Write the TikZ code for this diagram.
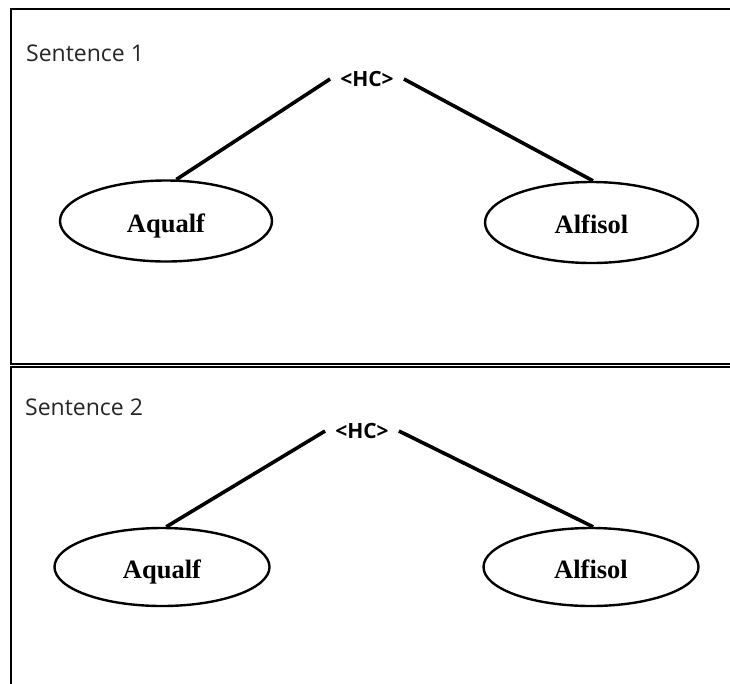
\documentclass[tikz,border=0pt]{standalone}
\usepackage{fontspec}
\setmainfont{Liberation Serif}
\newfontfamily\labelfont{Open Sans}
\usetikzlibrary{shapes.geometric}

\tikzset{
  frameline/.style={line width=2.2pt},
  branch/.style={line width=3.6pt},
  soil/.style={ellipse, draw, line width=2.4pt, inner sep=0pt,
    font=\fontsize{26.5}{26.5}\selectfont\bfseries,
    text height=24pt, text depth=2pt},
  relation/.style={font=\labelfont\fontsize{21}{21}\selectfont\bfseries,
    inner xsep=10pt, inner ysep=2pt},
  caption/.style={anchor=base west, inner sep=0pt, text=black!85,
    font=\labelfont\fontsize{23}{23}\selectfont}
}

\begin{document}
\begin{tikzpicture}[x=1pt, y=-1pt]
\useasboundingbox (0,0) rectangle (730,683);
\fill[white] (0,0) rectangle (730,683);

% two stacked panels, open to the right and below
\draw[frameline] (731,9) -- (11,9) -- (11,364.1) -- (731,364.1);
\draw[frameline] (731,366.9) -- (11,366.9) -- (11,684);

% ---- first sentence ----
\node[caption] (cap1) at (26,61) {Sentence 1};
\node[relation] (hc1) at (367,79) {<HC>};
\node[soil, minimum width=212pt, minimum height=81pt] (aq1) at (166,221) {Aqualf};
\node[soil, minimum width=213pt, minimum height=81pt] (al1) at (591.5,222.5) {Alfisol};
\draw[branch] (hc1.west) -- (aq1.76);
\draw[branch] (hc1.east) -- (al1.88);

% ---- second sentence ----
\node[caption] (cap2) at (25,415) {Sentence 2};
\node[relation] (hc2) at (362,431) {<HC>};
\node[soil, minimum width=215pt, minimum height=78pt] (aq2) at (162,567) {Aqualf};
\node[soil, minimum width=215pt, minimum height=78pt] (al2) at (591,567) {Alfisol};
\draw[branch] (hc2.west) -- (aq2.84);
\draw[branch] (hc2.east) -- (al2.87);
\end{tikzpicture}
\end{document}
